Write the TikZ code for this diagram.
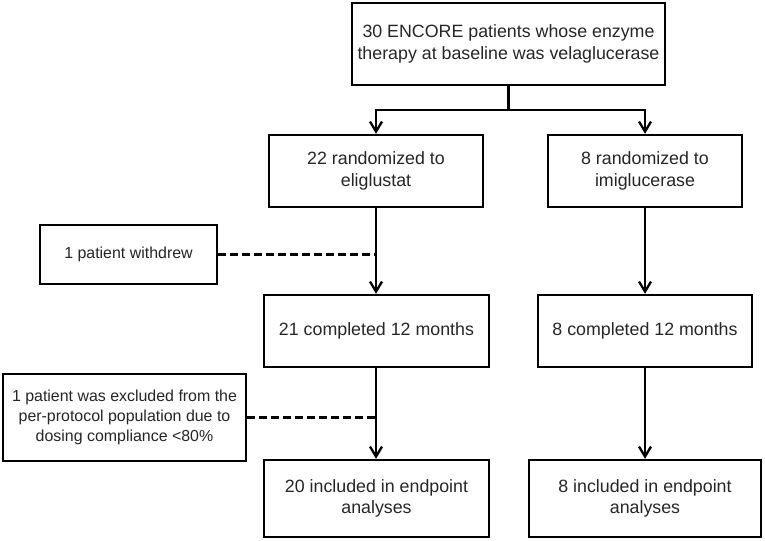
\documentclass[tikz,border=0pt]{standalone}
\usepackage{fontspec}
\setmainfont{Liberation Sans}
\usetikzlibrary{arrows.meta}
\tikzset{
  box/.style={draw, line width=0.7mm, align=center, inner sep=0pt, text=black!85,
    font=\fontsize{15.2}{18.4}\selectfont},
  side/.style={box, font=\fontsize{13.6}{17}\selectfont},
  arr/.style={line width=0.7mm, -{Straight Barb[length=3mm,width=3.6mm,line width=0.7mm]}},
  lost/.style={line width=0.8mm, dash pattern=on 2.4mm off 1.2mm}
}
\begin{document}
\begin{tikzpicture}[x=0.3mm,y=-0.3mm]
\useasboundingbox (0,0) rectangle (765,541);
\node (top) [box, minimum width=93.9mm, minimum height=24.6mm] at (508.5,44)
  {30 ENCORE patients whose enzyme\\therapy at baseline was velaglucerase};
\node (elig) [box, minimum width=64.2mm, minimum height=21.6mm] at (376,171)
  {22 randomized to\\eliglustat};
\node (imig) [box, minimum width=58.2mm, minimum height=21.6mm] at (645,171)
  {8 randomized to\\imiglucerase};
\node (withdrew) [side, minimum width=53.1mm, minimum height=17.7mm] at (128.5,254.5)
  {1 patient withdrew};
\node (comp21) [box, minimum width=67.5mm, minimum height=21.6mm] at (376.5,331)
  {21 completed 12 months};
\node (comp8) [box, minimum width=64.2mm, minimum height=21.6mm] at (645,331)
  {8 completed 12 months};
\node (excl) [side, minimum width=72.9mm, minimum height=26.1mm] at (124.5,417.5)
  {1 patient was excluded from the\\per-protocol population due to\\dosing compliance <80\%};
\node (incl20) [box, minimum width=67.5mm, minimum height=23.1mm] at (376.5,498.5)
  {20 included in endpoint\\analyses};
\node (incl8) [box, minimum width=69.6mm, minimum height=23.1mm] at (645,498.5)
  {8 included in endpoint\\analyses};
\coordinate (split) at (508.5,110);
\draw [line width=0.7mm] (top.south) -- (split);
\draw [arr] (split) -| (elig.north);
\draw [arr] (split) -| (imig.north);
\draw [arr] (elig.south) -- (elig.south |- comp21.north);
\draw [arr] (imig.south) -- (comp8.north);
\draw [arr] (elig.south |- comp21.south) -- (elig.south |- incl20.north);
\draw [arr] (comp8.south) -- (incl8.north);
\draw [lost] (withdrew.east) -- (withdrew.east -| elig.south);
\draw [lost] (excl.east) -- (excl.east -| elig.south);
\end{tikzpicture}
\end{document}
